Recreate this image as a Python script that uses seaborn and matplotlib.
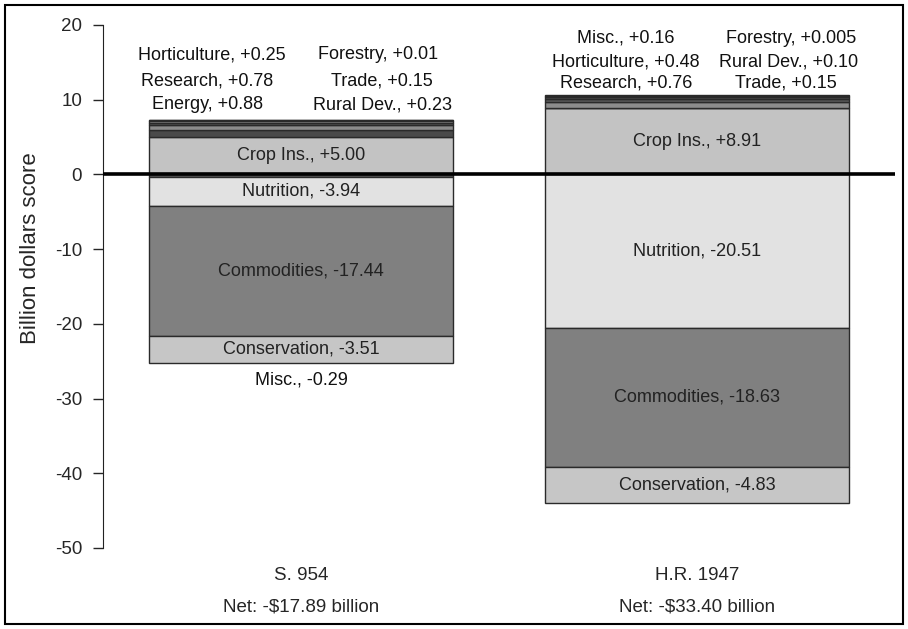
import numpy as np
import pandas as pd
import seaborn as sns
import matplotlib.pyplot as plt
from matplotlib.patches import Rectangle

# data (billion dollars)
bills = ["S. 954", "H.R. 1947"]
net = ["-$17.89", "-$33.40"]
layers = ["Crop Ins.", "Energy", "Research", "Horticulture", "Misc.", "Rural Dev.",
          "Trade", "Forestry", "Nutrition", "Commodities", "Conservation"]
s954 = [5.00, 0.88, 0.78, 0.25, -0.29, 0.23, 0.15, 0.01, -3.94, -17.44, -3.51]
hr1947 = [8.91, 0.0, 0.76, 0.48, 0.16, 0.10, 0.15, 0.005, -20.51, -18.63, -4.83]
colors = ["#c3c3c3", "#4a4a4a", "#8c8c8c", "#5a5a5a", "#5e5e5e", "#a0a0a0",
          "#6a6a6a", "#3a3a3a", "#e2e2e2", "#808080", "#c6c6c6"]
big = ["Crop Ins.", "Nutrition", "Commodities", "Conservation"]

sns.set_style("white")
plt.rcParams["font.family"] = ["Liberation Sans", "DejaVu Sans"]
plt.rcParams["axes.unicode_minus"] = False

fig = plt.figure(figsize=(9.08, 6.29), dpi=100)
ax = fig.add_axes([0.1134, 0.1288, 0.8723, 0.8315])

vals = np.array([s954, hr1947])
pos = np.zeros(2)
neg = np.zeros(2)
for i, name in enumerate(layers):
    v = vals[:, i]
    bottom = np.where(v >= 0, pos, neg)
    sns.barplot(x=bills, y=v, bottom=bottom, color=colors[i], saturation=1,
                width=0.77, edgecolor="#2a2a2a", linewidth=1.0, errorbar=None, ax=ax)
    if name in big:
        for j in range(2):
            ax.text(j, bottom[j] + v[j] / 2, f"{name}, {v[j]:+.2f}",
                    ha="center", va="center", fontsize=13, color="#222222")
    pos = pos + np.where(v >= 0, v, 0)
    neg = neg + np.where(v < 0, v, 0)


def fmt(v):
    return f"{v:+.2f}" if round(v, 2) == v else f"{v:+.3f}"


# labels for the thin layers, placed above / below the bars
small = {
    0: [("Horticulture", -0.225, 16.0), ("Research", -0.237, 12.45), ("Energy", -0.235, 9.3),
        ("Forestry", 0.195, 16.0), ("Trade", 0.204, 12.45), ("Rural Dev.", 0.207, 9.3),
        ("Misc.", 0.0, -27.5)],
    1: [("Misc.", -0.18, 18.25), ("Horticulture", -0.18, 15.1), ("Research", -0.178, 12.2),
        ("Forestry", 0.237, 18.25), ("Rural Dev.", 0.232, 15.1), ("Trade", 0.225, 12.2)],
}
for j, items in small.items():
    for name, dx, y in items:
        v = vals[j, layers.index(name)]
        ax.text(j + dx, y, f"{name}, {fmt(v)}", ha="center", va="center",
                fontsize=13, color="#111111")

ax.axhline(0, color="black", lw=2.6, zorder=5)
ax.set_ylim(-50, 20)
ax.set_xlim(-0.5, 1.5)
ax.set_yticks(np.arange(-50, 21, 10))
ax.set_xticks([0, 1])
ax.set_xticklabels([f"{b}\n\nNet: {n} billion" for b, n in zip(bills, net)],
                   fontsize=13.5, linespacing=0.9)
ax.tick_params(axis="x", length=0, pad=14)
ax.tick_params(axis="y", length=7, width=1, labelsize=13.5, left=True, direction="out", pad=8)
ax.set_ylabel("Billion dollars score", fontsize=16, labelpad=10, y=0.574)
ax.set_xlabel("")
sns.despine(ax=ax, top=True, right=True, bottom=True)
ax.spines["left"].set_color("#222222")

fig.patches.append(Rectangle((5 / 908, 5 / 629), 898 / 908, 619 / 629, transform=fig.transFigure,
                             fill=False, edgecolor="black", lw=1.5))

fig.savefig("out.png", dpi=100)
